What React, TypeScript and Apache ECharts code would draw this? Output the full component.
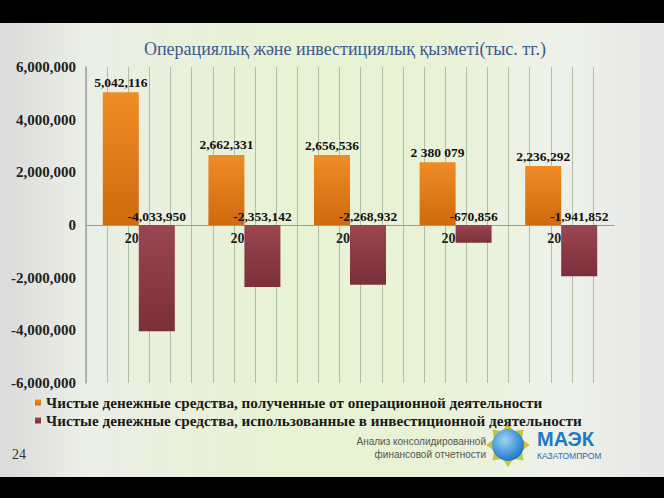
import React, { useEffect, useRef } from "react";
import * as echarts from "echarts";

const categories = ["20", "20", "20", "20", "20"];
const operatingValues = [5042116, 2662331, 2656536, 2380079, 2236292];
const operatingLabels = ["5,042,116", "2,662,331", "2,656,536", "2 380 079", "2,236,292"];
const investingValues = [-4033950, -2353142, -2268932, -670856, -1941852];
const seriesNames = [
  "Чистые денежные средства, полученные от операционной деятельности",
  "Чистые денежные средства, использованные в инвестиционной деятельности",
];
const titleText = "Операциялық және инвестициялық қызметі(тыс. тг.)";
const yTicks = { min: -6000000, max: 6000000, interval: 2000000 };

const SERIF = "'Liberation Serif', 'Times New Roman', serif";
const SANS = "'Liberation Sans', Arial, sans-serif";

function fmt(v: number) {
  return Math.round(v).toLocaleString("en-US");
}

export default function App() {
  const ref = useRef<HTMLDivElement>(null);
  useEffect(() => {
    if (!ref.current) return;
    const chart = echarts.init(ref.current, null, { renderer: "svg" });

    // decorative logo star
    const cx = 508, cy = 445;
    const starPts: number[][] = [];
    for (let i = 0; i < 16; i++) {
      const a = (Math.PI * 2 * i) / 16 - Math.PI / 2;
      const r = i % 2 === 0 ? 22 : 15;
      starPts.push([cx + r * Math.cos(a), cy + r * Math.sin(a)]);
    }

    const option: any = {
      animation: false,
      title: {
        text: titleText,
        left: 340,
        textAlign: "center",
        top: 35,
        textStyle: { fontFamily: SERIF, fontSize: 18, fontWeight: "normal", color: "#3b5a8e" },
      },
      legend: {
        orient: "vertical",
        left: 30,
        top: 390,
        itemWidth: 6,
        itemHeight: 6,
        itemGap: 3,
        icon: "rect",
        textStyle: { fontFamily: SERIF, fontSize: 15.2, fontWeight: "bold", color: "#1a1a1a" },
        data: seriesNames,
      },
      grid: [
        { left: 86, right: 50, top: 67, bottom: 115, containLabel: false },
        { left: 86, width: 507, top: 67, bottom: 115, containLabel: false },
      ],
      xAxis: [
        {
          type: "category",
          gridIndex: 0,
          data: categories,
          axisLine: { show: true, onZero: true, lineStyle: { color: "#9a9a9a", width: 1 } },
          axisTick: { show: false },
          axisLabel: {
            align: "right",
            margin: -152,
            verticalAlign: "top",
            fontFamily: SERIF,
            fontSize: 14,
            fontWeight: "bold",
            color: "#222",
          },
          splitLine: { show: false },
          z: 1,
        },
        {
          type: "value",
          gridIndex: 1,
          min: 0,
          max: 24,
          interval: 1,
          axisLine: { show: false },
          axisTick: { show: false },
          axisLabel: { show: false },
          splitLine: { show: true, lineStyle: { color: "#b0bea6", width: 1 } },
          z: 0,
        },
      ],
      yAxis: [
        {
          type: "value",
          gridIndex: 0,
          min: yTicks.min,
          max: yTicks.max,
          interval: yTicks.interval,
          axisLine: { show: true, lineStyle: { color: "#a3a3a3", width: 1.5 } },
          axisTick: { show: false },
          splitLine: { show: false },
          axisLabel: {
            margin: 10,
            fontFamily: SERIF,
            fontSize: 15,
            fontWeight: "bold",
            color: "#222",
            formatter: (v: number) => fmt(v),
          },
          z: 1,
        },
        { type: "value", gridIndex: 1, show: false, min: 0, max: 1, splitLine: { show: false } },
      ],
      series: [
        {
          name: seriesNames[0],
          type: "bar",
          xAxisIndex: 0,
          yAxisIndex: 0,
          data: operatingValues,
          barWidth: 36,
          barGap: "0%",
          itemStyle: {
            color: new echarts.graphic.LinearGradient(0, 0, 0, 1, [
              { offset: 0, color: "#f08c26" },
              { offset: 1, color: "#cf6a0e" },
            ]),
          },
          label: {
            show: true,
            position: "top",
            distance: 3,
            fontFamily: SERIF,
            fontSize: 13.5,
            fontWeight: "bold",
            color: "#111",
            formatter: (p: any) => operatingLabels[p.dataIndex],
          },
          z: 3,
        },
        {
          name: seriesNames[1],
          type: "bar",
          xAxisIndex: 0,
          yAxisIndex: 0,
          data: investingValues,
          barWidth: 36,
          barGap: "0%",
          itemStyle: {
            color: new echarts.graphic.LinearGradient(0, 0, 0, 1, [
              { offset: 0, color: "#9a4650" },
              { offset: 1, color: "#7a2f3a" },
            ]),
          },
          label: {
            show: true,
            position: "top",
            distance: 2,
            fontFamily: SERIF,
            fontSize: 13.5,
            fontWeight: "bold",
            color: "#111",
            formatter: (p: any) => fmt(p.value),
          },
          z: 3,
        },
      ],
      color: ["#e07b1a", "#8a3a46"],
      graphic: [
        { type: "rect", left: 0, top: 0, shape: { width: 664, height: 23 }, style: { fill: "#000" }, z: 10 },
        { type: "rect", left: 0, top: 477, shape: { width: 664, height: 21 }, style: { fill: "#000" }, z: 10 },
        {
          type: "text",
          left: 12,
          top: 447,
          style: { text: "24", font: `14px ${SERIF}`, fill: "#333" },
        },
        {
          type: "text",
          x: 486,
          y: 441,
          style: {
            text: "Анализ консолидированной",
            font: `10px ${SANS}`,
            fill: "#555",
            textAlign: "right",
            textVerticalAlign: "middle",
          },
        },
        {
          type: "text",
          x: 486,
          y: 454,
          style: {
            text: "финансовой отчетности",
            font: `10px ${SANS}`,
            fill: "#555",
            textAlign: "right",
            textVerticalAlign: "middle",
          },
        },
        {
          type: "polygon",
          shape: { points: starPts },
          style: { fill: "#c8c440" },
        },
        {
          type: "circle",
          shape: { cx, cy, r: 16 },
          style: {
            fill: new echarts.graphic.RadialGradient(0.4, 0.35, 0.7, [
              { offset: 0, color: "#9ad6f6" },
              { offset: 1, color: "#1470c2" },
            ]),
          },
        },
        {
          type: "text",
          x: 537,
          y: 439,
          style: {
            text: "МАЭК",
            font: `bold 20px ${SANS}`,
            fill: "#1f78c8",
            textVerticalAlign: "middle",
          },
        },
        {
          type: "text",
          x: 537,
          y: 456,
          style: {
            text: "КАЗАТОМПРОМ",
            font: `8.5px ${SANS}`,
            fill: "#2a6db0",
            textVerticalAlign: "middle",
          },
        },
      ],
    };
    chart.setOption(option);
    return () => chart.dispose();
  }, []);

  return (
    <div
      ref={ref}
      style={{
        position: "fixed",
        left: 0,
        top: 0,
        width: 664,
        height: 498,
        background:
          "linear-gradient(90deg, #dadada 0%, #ebeee6 12%, #e8f2d4 40%, #e9f2d6 65%, #eef1ea 85%, #e6e6e6 100%)",
      }}
    />
  );
}
